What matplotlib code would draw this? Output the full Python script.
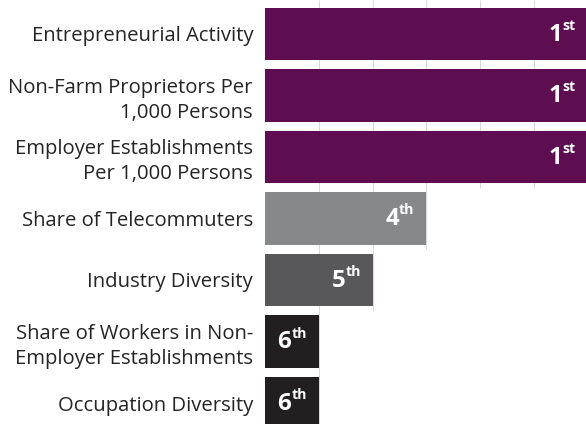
import matplotlib
matplotlib.use("Agg")
import matplotlib.pyplot as plt

categories = [
    "Entrepreneurial Activity",
    "Non-Farm Proprietors Per\n1,000 Persons",
    "Employer Establishments\nPer 1,000 Persons",
    "Share of Telecommuters",
    "Industry Diversity",
    "Share of Workers in Non-\nEmployer Establishments",
    "Occupation Diversity",
]
bar_values = [6, 6, 6, 3, 2, 1, 1]
rank_numbers = ["1", "1", "1", "4", "5", "6", "6"]
rank_suffixes = ["st", "st", "st", "th", "th", "th", "th"]
bar_colors = ["#5e0e50", "#5e0e50", "#5e0e50", "#87888a", "#58585a", "#231f20", "#231f20"]
grid_positions = [1, 2, 3, 4, 5]

DPI = 72
plt.rcParams["font.family"] = ["Open Sans", "DejaVu Sans"]
fig = plt.figure(figsize=(586 / DPI, 424 / DPI), dpi=DPI)

left_px, right_px = 265, 586
ax = fig.add_axes([left_px / 586, 0, (right_px - left_px) / 586, 1])
unit_px = 53.75
pitch = 61.5
y_top = -34 / pitch
y_bottom = 6 + 21 / pitch
ax.set_xlim(0, (right_px - left_px) / unit_px)
ax.set_ylim(y_bottom, y_top)

ypos = list(range(len(categories)))
ax.barh(ypos, bar_values, height=0.86, color=bar_colors, zorder=2)

# faint grid lines, drawn per row up to that row's bar length
for y, v in zip(ypos, bar_values):
    lo = y_top if y == 0 else y - 0.5
    hi = y + 0.5
    xs = [g for g in grid_positions if g <= v]
    if xs:
        ax.vlines(xs, lo, hi, color="#ddd7dd", lw=1, zorder=1)

ax.tick_params(axis="x", length=0, labelbottom=False)
ax.set_xticks([])
ax.tick_params(axis="y", length=0, pad=12)
ax.set_yticks(ypos)
ax.set_yticklabels(categories, fontsize=20.2, color="#262324", linespacing=1.33)
for s in ax.spines.values():
    s.set_visible(False)

fig.canvas.draw()
renderer = fig.canvas.get_renderer()
for y, v, num, suf in zip(ypos, bar_values, rank_numbers, rank_suffixes):
    t_sup = ax.annotate(suf, xy=(v, y), xytext=(-12, 1), textcoords="offset points",
                        ha="right", va="bottom", fontsize=14, fontweight="bold",
                        color="white", zorder=3, annotation_clip=False)
    w = t_sup.get_window_extent(renderer).width * 72 / DPI
    ax.annotate(num, xy=(v, y), xytext=(-12 - w, -1), textcoords="offset points",
                ha="right", va="center", fontsize=24, fontweight="bold",
                color="white", zorder=3, annotation_clip=False)

fig.savefig("out.png", dpi=DPI)
